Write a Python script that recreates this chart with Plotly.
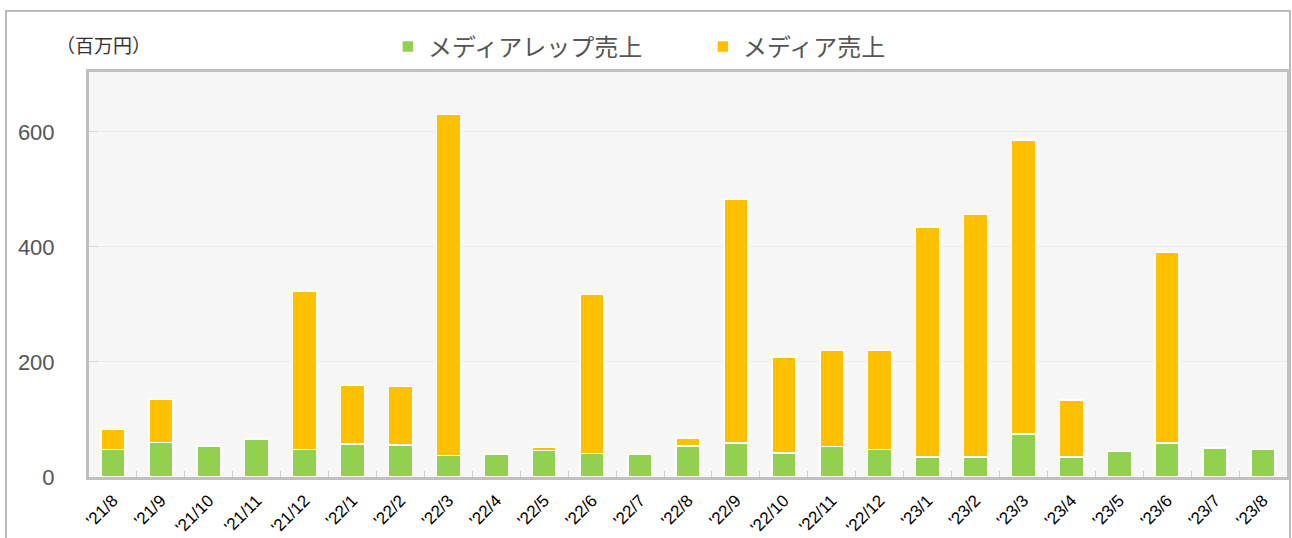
import plotly.graph_objects as go

months = ["'21/8", "'21/9", "'21/10", "'21/11", "'21/12", "'22/1", "'22/2", "'22/3", "'22/4", "'22/5",
          "'22/6", "'22/7", "'22/8", "'22/9", "'22/10", "'22/11", "'22/12", "'23/1", "'23/2", "'23/3",
          "'23/4", "'23/5", "'23/6", "'23/7", "'23/8"]
rep_sales = [48, 60, 54, 66, 48, 57, 56, 37, 40, 46, 41, 39, 54, 59, 42, 53, 48, 35, 35, 75, 35, 44, 59, 50, 48]
media_sales = [35, 75, 0, 0, 275, 103, 101, 593, 0, 5, 276, 0, 14, 423, 167, 167, 172, 400, 421, 511, 99, 0, 331, 0, 0]

fig = go.Figure()
fig.add_trace(go.Bar(x=months, y=rep_sales, name="メディアレップ売上",
                     marker=dict(color="#92d050", line=dict(color="white", width=1.5))))
fig.add_trace(go.Bar(x=months, y=media_sales, name="メディア売上",
                     marker=dict(color="#ffc000", line=dict(color="white", width=1.5))))

fig.update_layout(
    barmode="stack", bargap=0.5,
    width=1292, height=538,
    margin=dict(l=89, r=5, t=72, b=61, autoexpand=False),
    paper_bgcolor="white", plot_bgcolor="#f7f7f7",
    font=dict(family="Liberation Sans, Arial, sans-serif"),
    legend=dict(orientation="h", x=0.2495, xanchor="left", y=1.062, yanchor="middle",
                bgcolor="white", font=dict(size=24, color="#555", family="Noto Sans CJK JP"),
                itemwidth=30, traceorder="normal", entrywidth=270),
    xaxis=dict(type="category", showline=True, linecolor="#c0c0c0", linewidth=3, mirror=True,
               ticks="inside", tickson="boundaries", ticklen=6, tickcolor="#d0d0d0",
               tickangle=-45, tickfont=dict(size=17, color="black"), showgrid=False,
               automargin=False, ticklabelstandoff=4),
    yaxis=dict(range=[0, 704], tickvals=[0, 200, 400, 600], showline=True, linecolor="#c0c0c0",
               linewidth=3, mirror=True, gridcolor="#ececec", gridwidth=1, zeroline=False,
               ticks="inside", ticklen=9, tickcolor="#d8d8d8",
               tickfont=dict(size=22, color="#555"), ticklabelstandoff=27, automargin=False),
    shapes=[dict(type="rect", xref="paper", yref="paper", x0=-0.0693, x1=1.0025, y0=-0.2, y1=1.1506,
                 line=dict(color="#bbbbbb", width=2), fillcolor="rgba(0,0,0,0)", layer="below")],
    annotations=[dict(text="（百万円）", xref="paper", yref="paper", x=0.0117, y=1.067,
                      xanchor="center", yanchor="middle", showarrow=False,
                      font=dict(size=19, color="#333", family="Noto Sans CJK JP"))],
)

fig.write_html("out.html", config={"displayModeBar": False},
               post_script="document.body.style.margin='0';document.body.style.overflow='hidden';")
